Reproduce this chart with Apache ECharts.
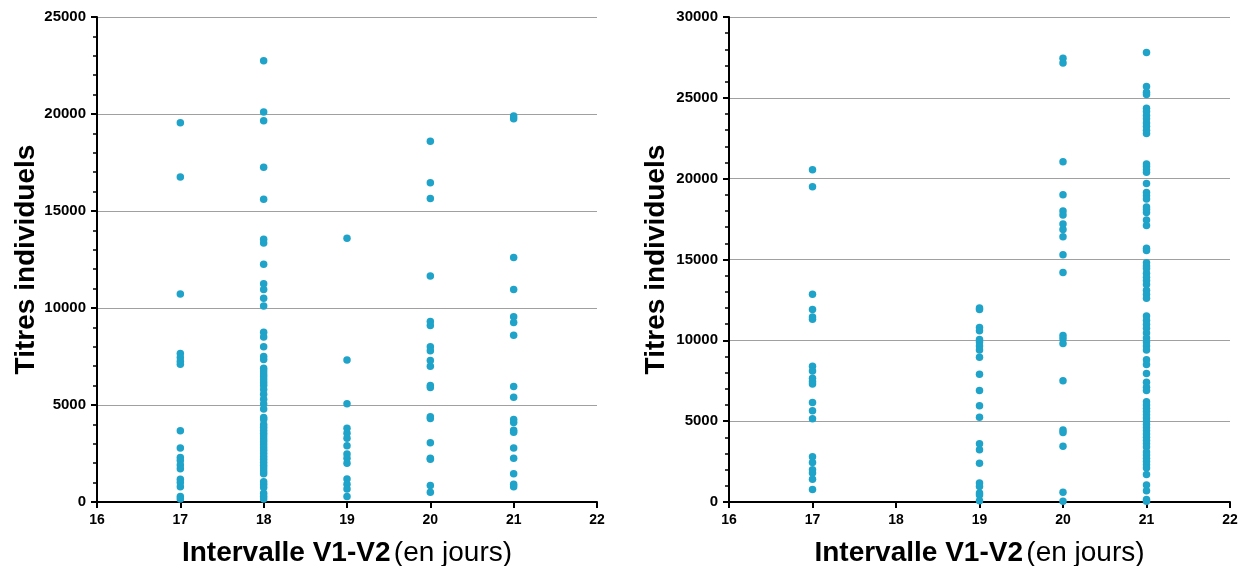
<!DOCTYPE html>
<html><head><meta charset="utf-8">
<script src="https://cdn.jsdelivr.net/npm/echarts@6/dist/echarts.min.js"></script>
<style>html,body{margin:0;padding:0;background:#fff}#c{width:1240px;height:566px}</style>
</head><body><div id="c"></div>
<script>
// Left panel values (x = interval in days)
const left17 = [19550, 16750, 10720, 7650, 7450, 7250, 7100, 3670, 2780, 2290, 2140, 1910, 1710, 1170, 1000, 790, 280, 160];
const left18 = [22750, 20100, 19650, 17250, 15600, 13550, 13350, 12250, 11250, 10950, 10500, 10100, 8750, 8500, 8000, 7500, 7350, 6900, 6750, 6600, 6450, 6300, 6150, 6000, 5800, 5550, 5300, 5050, 4800, 4350, 4250, 4000, 3850, 3700, 3550, 3400, 3250, 3100, 2950, 2800, 2650, 2500, 2350, 2200, 2050, 1900, 1750, 1600, 1450, 1050, 900, 750, 450, 300, 150];
const left19 = [13600, 7320, 5070, 3800, 3550, 3290, 2900, 2470, 2260, 2000, 1190, 910, 670, 280];
const left20 = [18600, 16450, 15650, 11650, 9300, 9100, 8000, 7800, 7300, 7000, 6000, 5900, 4400, 4300, 3050, 2250, 2200, 850, 500];
const left21 = [19900, 19750, 12600, 10950, 9550, 9250, 8600, 5950, 5400, 4250, 4100, 3700, 3600, 2780, 2260, 1450, 920, 790];
// Right panel values
const right17 = [20550, 19500, 12850, 11900, 11450, 11300, 8400, 8100, 7650, 7450, 7300, 6150, 5650, 5150, 2800, 2450, 2000, 1800, 1400, 780];
const right19 = [12000, 11900, 10800, 10600, 10050, 9900, 9650, 9400, 8950, 7900, 6900, 5950, 5250, 3600, 3230, 2400, 1180, 960, 560, 440, 80];
const right20 = [27450, 27150, 21050, 19000, 18000, 17750, 17200, 16850, 16400, 15300, 14200, 10300, 10100, 9800, 7500, 4450, 4300, 3450, 600, 50];
const right21 = [27800, 25700, 25350, 25200, 24350, 24150, 23900, 23700, 23450, 23250, 23000, 22800, 20900, 20750, 20550, 20400, 19700, 19150, 18950, 18750, 18250, 18100, 17900, 17450, 17100, 15700, 15550, 14800, 14600, 14450, 14150, 13900, 13700, 13450, 13100, 12850, 12600, 11500, 11250, 11000, 10750, 10450, 10150, 9900, 9650, 9400, 8800, 8500, 7950, 7400, 7100, 6900, 6200, 6000, 5800, 5600, 5400, 5200, 5000, 4800, 4600, 4400, 4200, 4000, 3800, 3600, 3400, 3100, 2900, 2700, 2500, 2300, 2100, 1700, 1050, 700, 150, 50];

const leftGroups = [[17, left17], [18, left18], [19, left19], [20, left20], [21, left21]];
const rightGroups = [[17, right17], [19, right19], [20, right20], [21, right21]];
const yTitle = 'Titres individuels';
const xTitleBold = 'Intervalle V1-V2';
const xTitleNormal = '(en jours)';

function pairs(groups){ const out=[]; groups.forEach(([x, arr]) => arr.forEach(v => out.push([x, v]))); return out; }

const FONT = '"Liberation Sans", Arial, Helvetica, sans-serif';
const COLOR = '#1fa3c9';

function xAxis(gi){
  return {
    type:'value', gridIndex:gi, min:16, max:22, interval:1,
    axisLine:{show:true, onZero:false, lineStyle:{color:'#000', width:2}},
    axisTick:{show:true, length:6, lineStyle:{color:'#000', width:2}},
    axisLabel:{color:'#000', fontFamily:FONT, fontWeight:'bold', fontSize:14, margin:11, formatter:v => String(v)},
    splitLine:{show:false},
    name:'{b|' + xTitleBold + '} {n|' + xTitleNormal + '}',
    nameLocation:'middle', nameGap:37,
    nameTextStyle:{rich:{
      b:{fontFamily:FONT, fontWeight:'bold', fontSize:28, color:'#000'},
      n:{fontFamily:FONT, fontWeight:'normal', fontSize:28, color:'#000'}
    }}
  };
}
function yAxis(gi, max, gap){
  return {
    type:'value', gridIndex:gi, min:0, max:max, interval:5000,
    axisLine:{show:true, lineStyle:{color:'#000', width:2}},
    axisTick:{show:true, length:6, lineStyle:{color:'#000', width:2}},
    minorTick:{show:true, splitNumber:5, length:4, lineStyle:{color:'#000', width:1.5}},
    axisLabel:{color:'#000', fontFamily:FONT, fontWeight:'bold', fontSize:15, margin:11, formatter:v => String(v)},
    splitLine:{show:true, lineStyle:{color:'#a0a0a0', width:1}},
    name:yTitle, nameLocation:'middle', nameGap:gap,
    nameTextStyle:{fontFamily:FONT, fontWeight:'bold', fontSize:28, color:'#000'}
  };
}

const chart = echarts.init(document.getElementById('c'), null, {renderer:'canvas'});
chart.setOption({
  backgroundColor:'#fff',
  animation:false,
  grid:[
    {left:97, top:17, width:500, height:485, outerBoundsMode:'none', containLabel:false},
    {left:729, top:17, width:501, height:485, outerBoundsMode:'none', containLabel:false}
  ],
  xAxis:[xAxis(0), xAxis(1)],
  yAxis:[yAxis(0, 25000, 55), yAxis(1, 30000, 59)],
  series:[
    {type:'scatter', xAxisIndex:0, yAxisIndex:0, data:pairs(leftGroups), symbolSize:7.5, itemStyle:{color:COLOR, opacity:1}},
    {type:'scatter', xAxisIndex:1, yAxisIndex:1, data:pairs(rightGroups), symbolSize:7.5, itemStyle:{color:COLOR, opacity:1}}
  ]
});
</script></body></html>
